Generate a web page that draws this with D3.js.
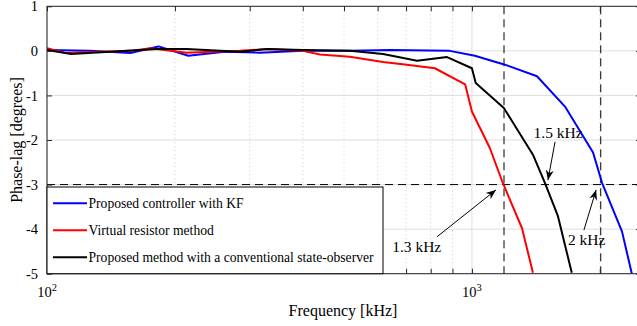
<!DOCTYPE html>
<html>
<head>
<meta charset="utf-8">
<script src="https://cdn.jsdelivr.net/npm/d3@7"></script>
<style>
body { margin: 0; background: #fff; }
text { font-family: "Liberation Serif", "Times New Roman", serif; fill: #000; }
</style>
</head>
<body>
<div id="chart"></div>
<script>
var w = 637;
var h = 326;

// series data: frequency (x) and phase-lag in degrees (y)
var kfFreq  = [100, 126, 157, 183, 215, 262, 317, 400, 516, 641, 887, 1016, 1196, 1423, 1656, 1928, 2024, 2255, 2379];
var kfPhase = [0.02, 0.0, -0.05, 0.1, -0.11, -0.02, -0.04, 0.0, 0.0, 0.02, 0.0, -0.11, -0.31, -0.57, -1.25, -2.28, -2.96, -4.05, -5.0];

var vrFreq  = [100, 111, 157, 175, 213, 284, 330, 400, 439, 516, 618, 703, 818, 964, 1000, 1102, 1183, 1312, 1392];
var vrPhase = [0.06, -0.05, 0.0, 0.06, -0.04, 0.0, 0.04, 0.0, -0.08, -0.13, -0.25, -0.31, -0.39, -0.75, -1.36, -2.18, -2.97, -3.98, -4.98];

var soFreq  = [100, 114, 182, 213, 284, 330, 400, 516, 618, 743, 874, 1000, 1021, 1189, 1392, 1486, 1594, 1718];
var soPhase = [0.02, -0.07, 0.04, 0.04, -0.02, 0.04, 0.02, 0.0, -0.07, -0.22, -0.14, -0.39, -0.72, -1.28, -2.33, -2.97, -3.71, -4.98];

var seriesNames  = ["Proposed controller with KF", "Virtual resistor method", "Proposed method with a conventional state-observer"];
var seriesColors = ["#0000ff", "#ff0000", "#000000"];

var yTicks = [1, 0, -1, -2, -3, -4, -5];
var xMajor = [100, 1000];
var xMinor = [200, 300, 400, 500, 600, 700, 800, 900, 2000];
var xMajorLabels = ["2", "3"];   // exponents of 10

// reference lines and annotations
var refFreqs = [1190, 2010];
var refPhase = -3;
var notes = [
  {text: "1.3 kHz", tx: 649,  ty: -4.51, anchor: "start",  x0: 828,  y0: -4.17, x1: 1139, y1: -3.12},
  {text: "1.5 kHz", tx: 1595, ty: -1.955, anchor: "middle", x0: 1569, y0: -2.04, x1: 1510, y1: -2.90},
  {text: "2 kHz",   tx: 1683, ty: -4.36, anchor: "start",  x0: 1835, y0: -4.02, x1: 1960, y1: -3.12}
];

var pL = 47, pR = 641, pT = 6.3, pB = 273.7;

var x = d3.scaleLog().domain([100, 2500]).range([pL, pR]);
var y = d3.scaleLinear().domain([-5, 1]).range([pB, pT]);

var svg = d3.select("#chart").append("svg")
    .attr("width", w)
    .attr("height", h);

var defs = svg.append("defs");
defs.append("clipPath").attr("id", "plotclip")
  .append("rect")
    .attr("x", pL).attr("y", pT)
    .attr("width", pR - pL).attr("height", pB - pT);

defs.append("marker")
    .attr("id", "head")
    .attr("viewBox", "-11 -5 12 10")
    .attr("refX", 0).attr("refY", 0)
    .attr("markerWidth", 12).attr("markerHeight", 10)
    .attr("markerUnits", "userSpaceOnUse")
    .attr("orient", "auto")
  .append("path")
    .attr("d", "M0,0 L-10,-4 L-7,0 L-10,4 Z")
    .attr("fill", "#000");

// grid
var grid = svg.append("g");
grid.selectAll(".hgrid").data(yTicks).enter().append("line")
    .attr("x1", pL).attr("x2", pR)
    .attr("y1", function(d){ return y(d); })
    .attr("y2", function(d){ return y(d); })
    .attr("stroke", "#dedede").attr("stroke-width", 1);
grid.selectAll(".vminor").data(xMinor).enter().append("line")
    .attr("x1", function(d){ return x(d); })
    .attr("x2", function(d){ return x(d); })
    .attr("y1", pT).attr("y2", pB)
    .attr("stroke", "#c8c8c8").attr("stroke-width", 1)
    .attr("stroke-dasharray", "1,3");
grid.selectAll(".vmajor").data(xMajor).enter().append("line")
    .attr("x1", function(d){ return x(d); })
    .attr("x2", function(d){ return x(d); })
    .attr("y1", pT).attr("y2", pB)
    .attr("stroke", "#dedede").attr("stroke-width", 1);

// dashed reference lines
svg.selectAll(".vref").data(refFreqs).enter().append("line")
    .attr("x1", function(d){ return x(d); })
    .attr("x2", function(d){ return x(d); })
    .attr("y1", pT).attr("y2", pB)
    .attr("stroke", "#000").attr("stroke-width", 1)
    .attr("stroke-dasharray", "8,5");
svg.append("line")
    .attr("x1", pL).attr("x2", pR)
    .attr("y1", y(refPhase)).attr("y2", y(refPhase))
    .attr("stroke", "#000").attr("stroke-width", 1)
    .attr("stroke-dasharray", "8,5");

// data lines
var allSeries = [
  {f: kfFreq, p: kfPhase},
  {f: vrFreq, p: vrPhase},
  {f: soFreq, p: soPhase}
];
var line = d3.line()
    .x(function(d){ return x(d[0]); })
    .y(function(d){ return y(d[1]); });

svg.append("g").attr("clip-path", "url(#plotclip)")
  .selectAll("path").data(allSeries).enter().append("path")
    .attr("d", function(s){ return line(d3.zip(s.f, s.p)); })
    .attr("fill", "none")
    .attr("stroke", function(s, i){ return seriesColors[i]; })
    .attr("stroke-width", 2)
    .attr("stroke-linejoin", "round");

// axes box and ticks
var axisG = svg.append("g");
axisG.append("rect")
    .attr("x", pL).attr("y", pT)
    .attr("width", pR - pL).attr("height", pB - pT)
    .attr("fill", "none").attr("stroke", "#262626").attr("stroke-width", 1);

var yAxisL = d3.axisLeft(y).tickValues(yTicks).tickSizeInner(-5).tickSizeOuter(0)
    .tickPadding(9).tickFormat(function(d){ return d; });
var yAxisR = d3.axisRight(y).tickValues(yTicks).tickSizeInner(-5).tickSizeOuter(0).tickFormat("");
var xTickVals = xMajor.concat(xMinor);
var xAxisB = d3.axisBottom(x).tickValues(xTickVals).tickSizeInner(-5).tickSizeOuter(0).tickFormat("");
var xAxisT = d3.axisTop(x).tickValues(xTickVals).tickSizeInner(-5).tickSizeOuter(0).tickFormat("");

var gl = axisG.append("g").attr("transform", "translate(" + pL + ",0)").call(yAxisL);
axisG.append("g").attr("transform", "translate(" + pR + ",0)").call(yAxisR);
axisG.append("g").attr("transform", "translate(0," + pB + ")").call(xAxisB);
axisG.append("g").attr("transform", "translate(0," + pT + ")").call(xAxisT);
axisG.selectAll(".domain").remove();
axisG.selectAll(".tick line").attr("stroke", "#262626");
gl.selectAll("text")
    .style("font-family", "'Liberation Serif', serif")
    .style("font-size", "14.5px")
    .attr("fill", "#262626");

// x tick labels 10^n
var xl = axisG.selectAll(".xlab").data(xMajor).enter().append("text")
    .attr("x", function(d){ return x(d); })
    .attr("y", 296.5)
    .attr("text-anchor", "middle")
    .style("font-size", "14.5px")
    .attr("fill", "#262626");
xl.append("tspan").text("10");
xl.append("tspan").attr("dy", -6).style("font-size", "10.5px")
    .text(function(d, i){ return xMajorLabels[i]; });

// axis titles
svg.append("text")
    .attr("x", 343).attr("y", 316)
    .attr("text-anchor", "middle")
    .style("font-size", "16px")
    .text("Frequency [kHz]");
svg.append("text")
    .attr("transform", "translate(22,140) rotate(-90)")
    .attr("text-anchor", "middle")
    .style("font-size", "16px")
    .text("Phase-lag [degrees]");

// legend
var legX = pL, legY = 187, legW = 336, legH = pB - 187;
var leg = svg.append("g");
leg.append("rect")
    .attr("x", legX).attr("y", legY)
    .attr("width", legW).attr("height", legH)
    .attr("fill", "#fff").attr("stroke", "#000").attr("stroke-width", 1);
var items = leg.selectAll(".item").data(seriesNames).enter().append("g")
    .attr("transform", function(d, i){ return "translate(0," + (203.3 + i * 27) + ")"; });
items.append("line")
    .attr("x1", 53).attr("x2", 87)
    .attr("stroke", function(d, i){ return seriesColors[i]; })
    .attr("stroke-width", 2);
items.append("text")
    .attr("x", 88.5).attr("y", 4.8)
    .style("font-size", "13.6px")
    .text(function(d){ return d; });

// annotations
var ann = svg.append("g");
ann.selectAll(".arrow").data(notes).enter().append("line")
    .attr("x1", function(d){ return x(d.x0); })
    .attr("y1", function(d){ return y(d.y0); })
    .attr("x2", function(d){ return x(d.x1); })
    .attr("y2", function(d){ return y(d.y1); })
    .attr("stroke", "#000").attr("stroke-width", 1)
    .attr("marker-end", "url(#head)");
ann.selectAll(".note").data(notes).enter().append("text")
    .attr("x", function(d){ return x(d.tx); })
    .attr("y", function(d){ return y(d.ty); })
    .attr("text-anchor", function(d){ return d.anchor; })
    .style("font-size", "15.5px")
    .text(function(d){ return d.text; });
</script>
</body>
</html>
